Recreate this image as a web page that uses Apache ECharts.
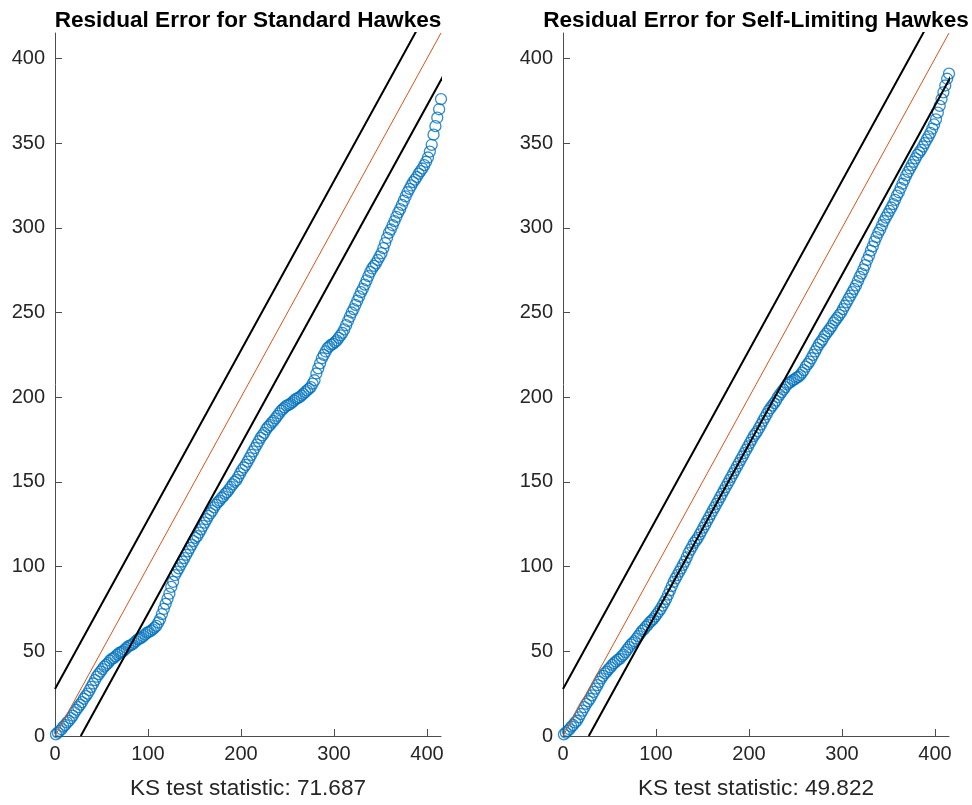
<!DOCTYPE html>
<html>
<head>
<meta charset="utf-8">
<title>Residual Error</title>
<script src="https://cdn.jsdelivr.net/npm/echarts@6/dist/echarts.min.js"></script>
<style>
  html, body { margin: 0; padding: 0; background: #fff; }
  #chart { width: 972px; height: 805px; }
</style>
</head>
<body>
<div id="chart"></div>
<script>
// number of events, axes run 0..N on both sides
var N = 415;
var ksBand = 27.7; // 1.36 * sqrt(N)
var xTicks = [0, 100, 200, 300, 400];
var yTicks = [0, 50, 100, 150, 200, 250, 300, 350, 400];
var titles = ["Residual Error for Standard Hawkes", "Residual Error for Self-Limiting Hawkes"];
var ksLabels = ["KS test statistic: 71.687", "KS test statistic: 49.822"];

// sorted rescaled times, one value for every second event (x = 1, 3, 5, ... 415)
var leftY = [1,2,3,4,5.5,6.5,8,9,10.5,12,
  14,15.5,17,18.5,20,22,23.5,25,27,29,
  31,33,35,36.5,38,39.5,41,42,43,44.5,
  45.5,46,47,48,49,49.5,50,51,52,53,
  53.5,54,55,56,57,57.5,58,59,60,61,
  61.5,62,63,64,65,67,69,72,75,78,
  81,84,88,91,95,97,99,101,103,105,
  107,109,111,113,115,117,118,120,122,124,
  126,128,130,131.5,133,135,136.5,138,139,140.5,
  141.5,143,144,145.5,147,148.5,150,151,153,155,
  157,158.5,160,162,164,166,168,170,172,174,
  176,177.5,179,181,182.5,183.5,185,186,187.5,189,
  190.5,192,193,194,195,195.5,196,197,198,199,
  199.5,200,201,202,203,204,205,206,208,210,
  214,217,220,223,225,227,229,230,231,231.5,
  232.5,233.5,235,236.5,238,240,242.5,245,247.5,250,
  252,254.5,257,259.5,262,264,266.5,269,271.5,274,
  276,277.5,279,281,283,285,288,291,294,297,
  299,301.5,304,306.5,309,311,313.5,316,318.5,321,
  323,325,327,328.5,330,332,333.5,335,337,339,
  341.5,345,349,355,360,365,370,376];

var rightY = [1,2,3,4,5.5,6.5,8,9,11,13,
  15,17,19,20.5,22,24,26,28,30,32,
  34,35.5,37,38,39.5,40.5,42,43,44,45,
  45.5,47,48,49.5,51,52.5,54,55,56,57.5,
  59,60.5,62,63,64.5,65.5,67,68,69,70.5,
  72,73.5,75,77,79,81,83.5,86,88.5,91,
  93,95,97,99,101,103,105.5,108,110,112,
  114,115.5,117,119,121,123,125,127,129,131,
  133,135,137,139,141,143,145,147,149,151,
  153,155,157,159,161,163,165,167,169,171,
  173,175,177,178.5,180,182,184,186,188,190,
  192,193.5,195,196.5,198,200,201.5,203,204.5,206,
  207.5,208.5,209,210,210.5,211.5,212,213,214.5,216,
  218,219.5,221,223,225,227,229,231,232.5,234,
  236,237.5,239,240.5,242,244,245.5,247,248.5,250,
  252,254,256,258,260,262,264,266,268.5,271,
  273,275.5,278,281,283.5,286.5,289,292,294.5,297,
  299,301.5,304,306,308,310,312,314,316.5,319,
  321,323.5,326,328.5,331,333,335,337,339,341,
  343,344.5,346,348,350,352,354,356,358.5,361,
  364,368,372,376,380,384,388,391];

var font = "'Liberation Sans', Arial, Helvetica, sans-serif";
var textColor = "#262626";

function toPoints(ys) {
    return ys.map(function (y, i) { return [1 + 2 * i, y]; });
}

function makeX(idx) {
    return {
        type: "value", gridIndex: idx, min: 0, max: N,
        name: ksLabels[idx], nameLocation: "middle", nameGap: 41,
        nameTextStyle: { fontFamily: font, fontSize: 22.6, color: textColor },
        axisLine: { show: true, lineStyle: { color: "#4d4d4d", width: 1 } },
        axisTick: { show: true, inside: true, length: 7, customValues: xTicks, lineStyle: { color: "#4d4d4d" } },
        axisLabel: { customValues: xTicks, margin: 8, fontFamily: font, fontSize: 20, color: textColor },
        splitLine: { show: false },
    };
}

function makeY(idx) {
    return {
        type: "value", gridIndex: idx, min: 0, max: N,
        axisLine: { show: true, lineStyle: { color: "#4d4d4d", width: 1 } },
        axisTick: { show: true, inside: true, length: 7, customValues: yTicks, lineStyle: { color: "#4d4d4d" } },
        axisLabel: { customValues: yTicks, margin: 10, fontFamily: font, fontSize: 20, color: textColor },
        splitLine: { show: false },
    };
}

function panelSeries(idx, ys) {
    return [
        {
            type: "scatter", xAxisIndex: idx, yAxisIndex: idx, z: 2,
            data: toPoints(ys),
            symbol: "circle", symbolSize: 11,
            itemStyle: { color: "rgba(0,0,0,0)", borderColor: "#0072BD", borderWidth: 1.3 },
            silent: true, animation: false,
        },
        {
            type: "line", xAxisIndex: idx, yAxisIndex: idx, z: 3,
            data: [[0, ksBand], [N, N + ksBand]],
            symbol: "none", lineStyle: { color: "#000", width: 2 }, animation: false,
        },
        {
            type: "line", xAxisIndex: idx, yAxisIndex: idx, z: 3,
            data: [[0, 0], [N, N]],
            symbol: "none", lineStyle: { color: "#D95319", width: 1 }, animation: false,
        },
        {
            type: "line", xAxisIndex: idx, yAxisIndex: idx, z: 3,
            data: [[ksBand, 0], [N + ksBand, N]],
            symbol: "none", lineStyle: { color: "#000", width: 2 }, animation: false,
        },
    ];
}

var myChart = echarts.init(document.getElementById("chart"));
myChart.setOption({
    backgroundColor: "#fff",
    animation: false,
    title: [
        { text: titles[0], left: 243, top: 4, textAlign: "center",
          textStyle: { fontFamily: font, fontSize: 22.6, fontWeight: "bold", color: "#000" } },
        { text: titles[1], left: 751, top: 4, textAlign: "center",
          textStyle: { fontFamily: font, fontSize: 22.6, fontWeight: "bold", color: "#000" } },
    ],
    grid: [
        { left: 55, top: 33, width: 386, height: 705 },
        { left: 563, top: 33, width: 386, height: 705 },
    ],
    xAxis: [makeX(0), makeX(1)],
    yAxis: [makeY(0), makeY(1)],
    series: panelSeries(0, leftY).concat(panelSeries(1, rightY)),
});
</script>
</body>
</html>
